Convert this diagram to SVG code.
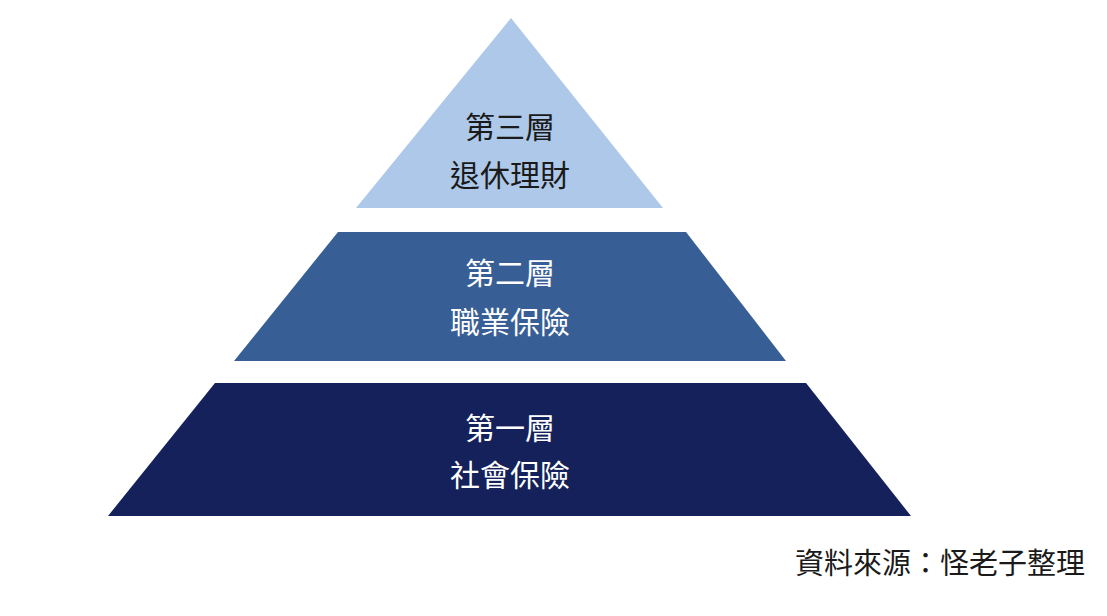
<svg xmlns="http://www.w3.org/2000/svg" width="1107" height="616" viewBox="0 0 1107 616">
<style>
text{font-family:"Noto Sans CJK TC","Noto Sans CJK SC",sans-serif;font-size:30px;text-anchor:middle}
.w{fill:#ffffff}.d{fill:#1a1a1a}
</style>
<rect width="1107" height="616" fill="#ffffff"/>
<g id="layer3">
<polygon points="511,18 663,208 356,208" fill="#adc8e8"/>
<text class="d" x="510" y="138">第三層</text>
<text class="d" x="510" y="186">退休理財</text>
</g>
<g id="layer2">
<polygon points="338,232 686,232 786,361 234,361" fill="#385e96"/>
<text class="w" x="510" y="284">第二層</text>
<text class="w" x="510" y="333">職業保險</text>
</g>
<g id="layer1">
<polygon points="215,383 806,383 911,516 108,516" fill="#14215a"/>
<text class="w" x="510" y="439">第一層</text>
<text class="w" x="510" y="486">社會保險</text>
</g>
<g id="connectors"/>
<text class="d" x="1085" y="574" style="text-anchor:end;font-size:29px">資料來源：怪老子整理</text>
</svg>
